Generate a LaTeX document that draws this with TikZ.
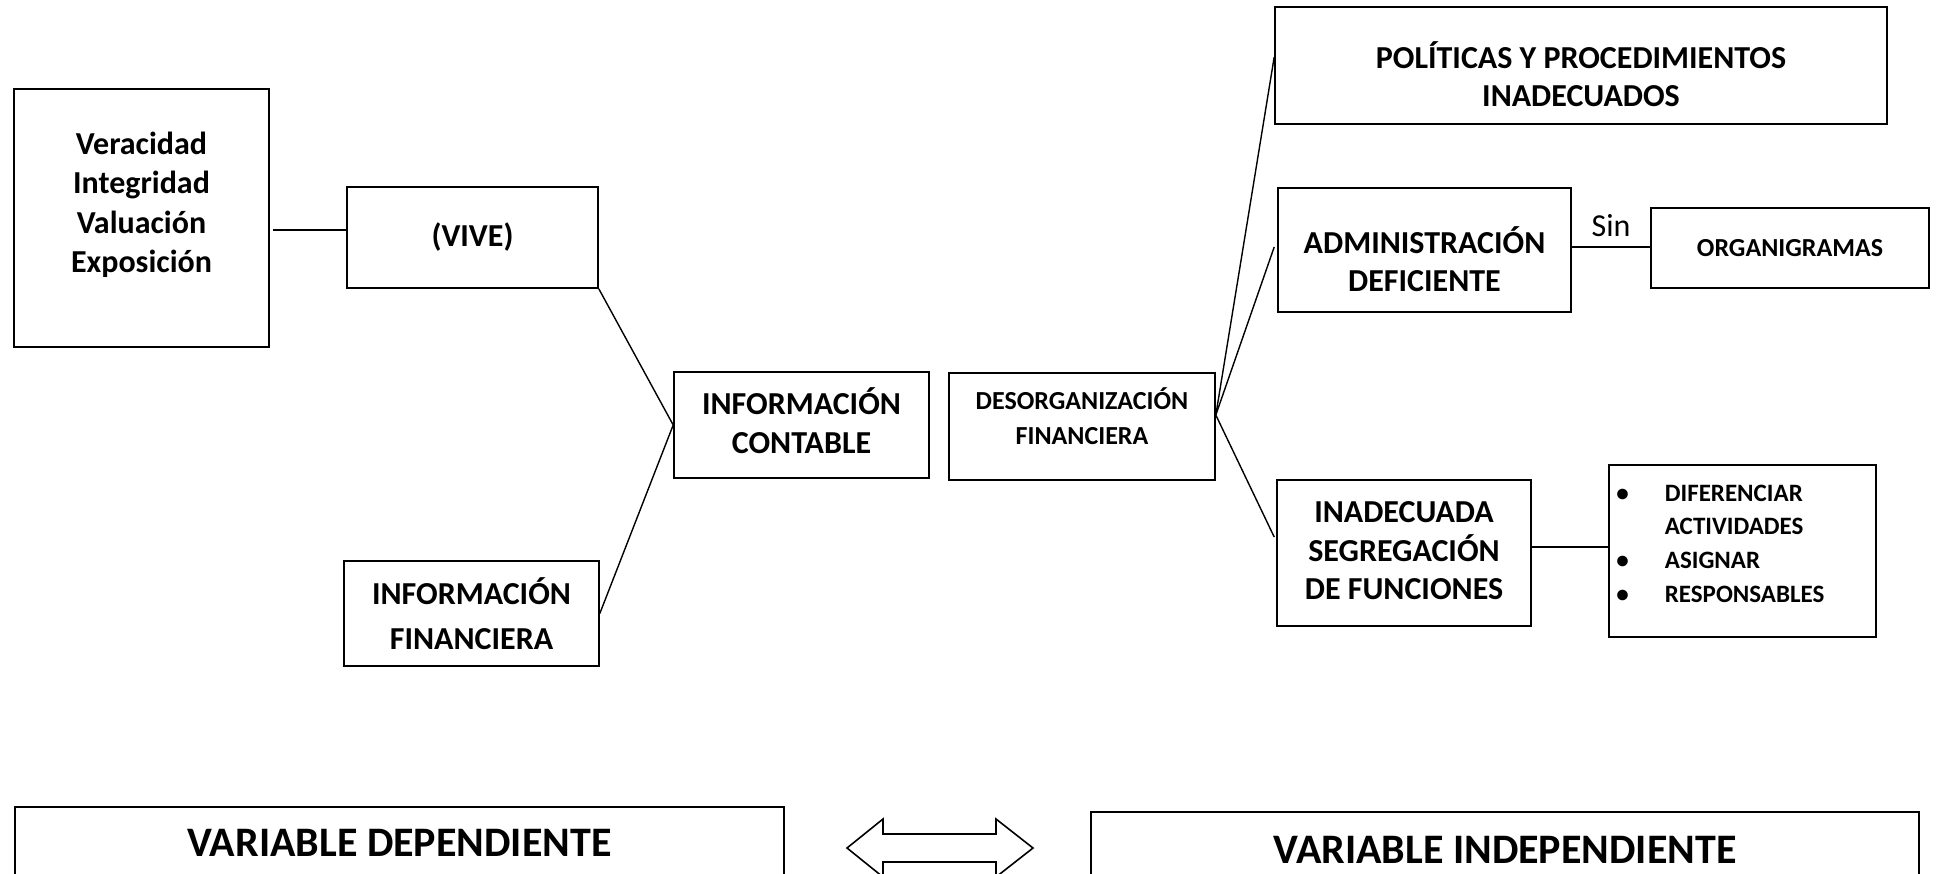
\documentclass[tikz,border=0pt]{standalone}
\usepackage{fontspec}
\setmainfont{Carlito}
\begin{document}
\begin{tikzpicture}[x=1pt,y=-1pt,
  box/.style={draw, line width=1.6pt, rectangle, inner sep=0pt, align=center},
  bt/.style={font=\bfseries\fontsize{32}{#1}\selectfont, align=center, inner sep=0pt},
  bt/.default=39,
  st/.style={font=\bfseries\fontsize{26}{#1}\selectfont, align=center, inner sep=0pt},
  st/.default=35,
  link/.style={line width=1.4pt},
  hlink/.style={line width=2.8pt}]
\useasboundingbox (0,0) rectangle (1937,873);
\clip (0,0) rectangle (1937,873);

% left column
\node[box, minimum width=255, minimum height=258] (ver) at (141.5,218) {};
\node[bt=39.5, yshift=13pt] (vertxt) at (ver) {Veracidad\\Integridad\\Valuación\\Exposición};
\node[box, bt, minimum width=251, minimum height=101] (vive) at (472.5,237.5) {(VIVE)};
\node[box, bt=45, minimum width=255, minimum height=105] (infof) at (471.5,613.5) {INFORMACIÓN\\FINANCIERA};
\node[box, minimum width=255, minimum height=106] (infoc) at (801.5,425) {};
\node[bt=39, yshift=4pt] (infoctxt) at (infoc) {INFORMACIÓN\\CONTABLE};

% middle
\node[box, minimum width=266, minimum height=107] (desorg) at (1082,426.5) {};
\node[st=35, yshift=10pt] (desorgtxt) at (desorg) {DESORGANIZACIÓN\\FINANCIERA};

% right column
\node[box, minimum width=612, minimum height=117] (pol) at (1581,65.5) {};
\node[bt=38, yshift=-9pt] (poltxt) at (pol) {POLÍTICAS Y PROCEDIMIENTOS\\INADECUADOS};
\node[box, minimum width=293, minimum height=124] (admin) at (1424.5,250) {};
\node[bt=38, yshift=-9pt] (admintxt) at (admin) {ADMINISTRACIÓN\\DEFICIENTE};
\node[box, st, minimum width=278, minimum height=80] (org) at (1790,248) {ORGANIGRAMAS};
\node[box, minimum width=254, minimum height=146] (inad) at (1404,553) {};
\node[bt=38.5, yshift=2pt] (inadtxt) at (inad) {INADECUADA\\SEGREGACIÓN\\DE FUNCIONES};
\node[box, minimum width=267, minimum height=172] (lst) at (1742.5,551) {};
\node[anchor=base west, inner sep=0pt, font=\bfseries\fontsize{25}{33.7}\selectfont]
  (lsttxt) at ([xshift=8pt,yshift=-37pt]lst.north west)
  {\begin{tabular}[t]{@{}l@{\hspace{36pt}}l@{}}
   \textbullet & DIFERENCIAR\\
               & ACTIVIDADES\\
   \textbullet & ASIGNAR\\
   \textbullet & RESPONSABLES
   \end{tabular}};

% connectors
\draw[hlink] ([xshift=3pt,yshift=-12pt]ver.east) -- ([yshift=7.5pt]vive.west);
\draw[link] (vive.south east) -- (infoc.west);
\draw[link] (infof.east) -- (infoc.west);
\draw[link] ([yshift=11.5pt]desorg.east) -- ([yshift=8.5pt]pol.west);
\draw[link] ([yshift=11.5pt]desorg.east) -- ([xshift=-3pt,yshift=3pt]admin.west);
\draw[link] ([yshift=11.5pt]desorg.east) -- ([xshift=-2pt,yshift=16pt]inad.west);
\draw[hlink] ([yshift=3pt]admin.east) -- ([yshift=1pt]org.west)
  node[midway, above=9pt, inner sep=0pt, font=\fontsize{32}{38}\selectfont] (sin) {Sin};
\draw[hlink] ([yshift=6pt]inad.east) -- ([yshift=4pt]lst.west);

% bottom row
\node[box, minimum width=769, minimum height=72, font=\bfseries\fontsize{42}{50}\selectfont] (vd) at (399.5,843) {VARIABLE DEPENDIENTE};
\node[box, minimum width=828, minimum height=75, font=\bfseries\fontsize{42}{50}\selectfont] (vi) at (1505,849.5) {VARIABLE INDEPENDIENTE};
\coordinate (dac) at (940,848);
\draw[line width=1.6pt, line join=miter]
  ([xshift=-93pt]dac) -- ([xshift=-57pt,yshift=29pt]dac) -- ([xshift=-57pt,yshift=14pt]dac)
  -- ([xshift=56pt,yshift=14pt]dac) -- ([xshift=56pt,yshift=29pt]dac) -- ([xshift=93pt]dac)
  -- ([xshift=56pt,yshift=-29pt]dac) -- ([xshift=56pt,yshift=-14pt]dac)
  -- ([xshift=-57pt,yshift=-14pt]dac) -- ([xshift=-57pt,yshift=-29pt]dac) -- cycle;
\end{tikzpicture}
\end{document}
